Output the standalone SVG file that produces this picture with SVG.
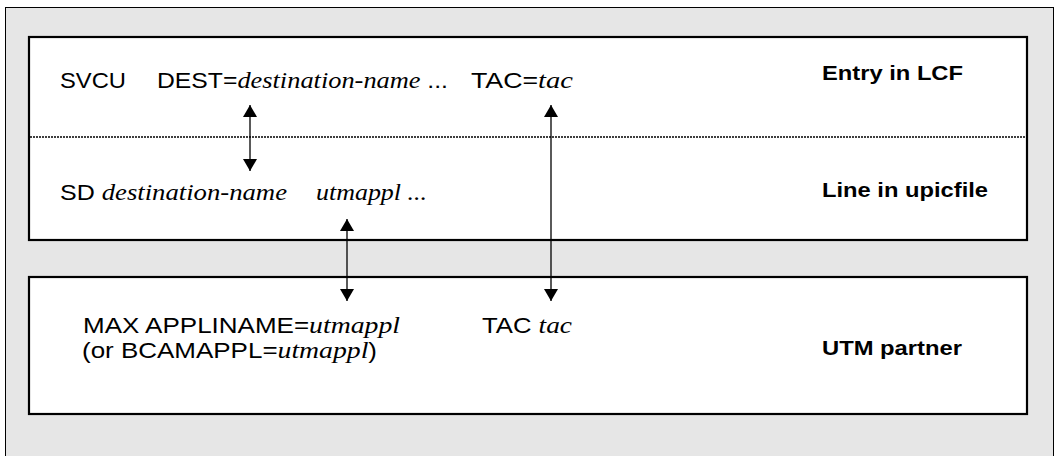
<svg xmlns="http://www.w3.org/2000/svg" width="1057" height="456" viewBox="0 0 1057 456">
  <style>
    .box { fill: #ffffff; stroke: #000000; stroke-width: 2.2; }
    text.t { font-family: "Liberation Sans", Arial, sans-serif; font-size: 22.5px; fill: #000000; }
    text.b { font-family: "Liberation Sans", Arial, sans-serif; font-size: 21px; font-weight: bold; fill: #000000; }
    tspan.i { font-family: "Liberation Serif", "Times New Roman", serif; font-style: italic; font-size: 24px; }
    .conn { stroke: #000000; stroke-width: 1.3; fill: none; marker-start: url(#ah); marker-end: url(#ah); }
  </style>
  <defs>
    <marker id="ah" markerUnits="userSpaceOnUse" markerWidth="14" markerHeight="14" viewBox="0 0 12 14" refX="12" refY="7" orient="auto-start-reverse">
      <path d="M0,0 L12,7 L0,14 Z" fill="#000000"/>
    </marker>
  </defs>

  <rect id="panel" x="5.5" y="7.5" width="1048" height="470" fill="#e6e6e6" stroke="#000000" stroke-width="1"/>

  <g id="lcf-upic">
    <rect class="box" x="29" y="37" width="998" height="203"/>
    <line x1="30" y1="137" x2="1026" y2="137" stroke="#000000" stroke-width="1.5" stroke-dasharray="2 1"/>
    <text class="t" x="60" y="88" textLength="66" lengthAdjust="spacingAndGlyphs">SVCU</text>
    <text class="t" x="157" y="88" textLength="291" lengthAdjust="spacingAndGlyphs">DEST=<tspan class="i" font-family="Liberation Serif, serif" font-style="italic">destination-name</tspan> ...</text>
    <text class="t" x="471" y="88" textLength="102" lengthAdjust="spacingAndGlyphs">TAC=<tspan class="i" font-family="Liberation Serif, serif" font-style="italic">tac</tspan></text>
    <text class="b" x="822" y="80" textLength="141" lengthAdjust="spacingAndGlyphs">Entry in LCF</text>
    <text class="t" x="60" y="200" textLength="227" lengthAdjust="spacingAndGlyphs">SD <tspan class="i" font-family="Liberation Serif, serif" font-style="italic">destination-name</tspan></text>
    <text class="t" x="316" y="200" textLength="111" lengthAdjust="spacingAndGlyphs"><tspan class="i" font-family="Liberation Serif, serif" font-style="italic">utmappl ...</tspan></text>
    <text class="b" x="822" y="197" textLength="166" lengthAdjust="spacingAndGlyphs">Line in upicfile</text>
  </g>

  <g id="utm-partner">
    <rect class="box" x="29" y="277" width="998" height="137"/>
    <text class="t" x="83" y="333" textLength="317" lengthAdjust="spacingAndGlyphs">MAX APPLINAME=<tspan class="i" font-family="Liberation Serif, serif" font-style="italic">utmappl</tspan></text>
    <text class="t" x="482" y="333" textLength="90" lengthAdjust="spacingAndGlyphs">TAC <tspan class="i" font-family="Liberation Serif, serif" font-style="italic">tac</tspan></text>
    <text class="t" x="82" y="358" textLength="295" lengthAdjust="spacingAndGlyphs">(or BCAMAPPL=<tspan class="i" font-family="Liberation Serif, serif" font-style="italic">utmappl</tspan>)</text>
    <text class="b" x="822" y="355" textLength="140" lengthAdjust="spacingAndGlyphs">UTM partner</text>
  </g>

  <g id="connectors">
    <line class="conn" x1="250" y1="105" x2="250" y2="171"/>
    <line class="conn" x1="347" y1="219" x2="347" y2="301"/>
    <line class="conn" x1="551" y1="105" x2="551" y2="301"/>
  </g>
</svg>
